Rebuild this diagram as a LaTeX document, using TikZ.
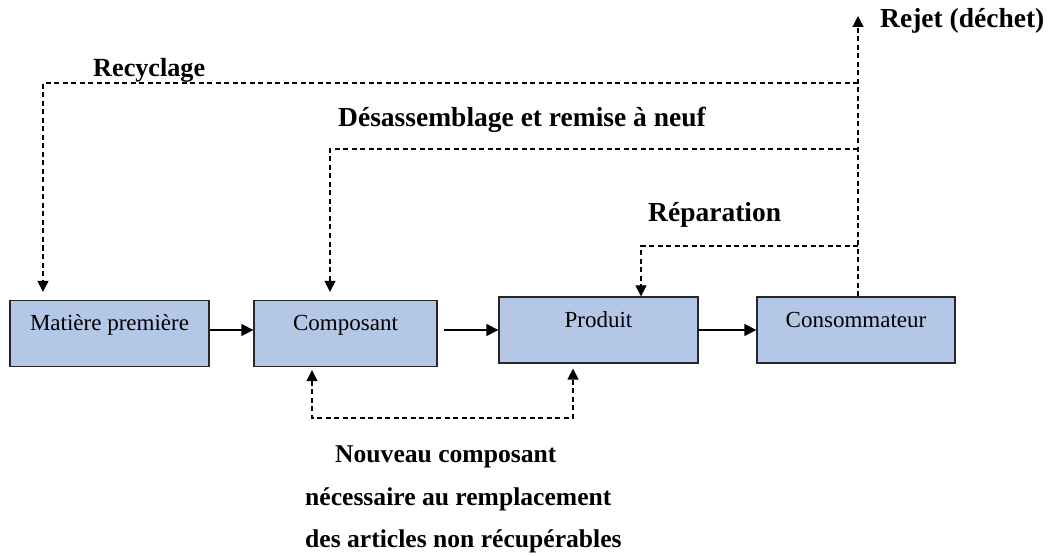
\documentclass[tikz,border=0pt]{standalone}
\usepackage{fontspec}
\setmainfont{Liberation Serif}
\usetikzlibrary{arrows.meta}

\definecolor{boxblue}{HTML}{B4C7E7}
\definecolor{boxline}{HTML}{262626}

\tikzset{
  bloc/.style={draw=boxline, line width=1.3pt, fill=boxblue, inner sep=0pt,
    text height=30pt, text depth=36pt, font=\fontsize{23}{27}\selectfont},
  lab/.style={inner sep=0pt, anchor=base west, font=\bfseries\fontsize{#1}{#1}\selectfont},
  lab/.default=26,
  flux/.style={line width=1.4pt, -{Triangle[length=12pt,width=12pt]}},
  retour/.style={line width=1.2pt, dash pattern=on 5pt off 3.5pt, -{Triangle[length=11pt,width=11pt]}}
}

\begin{document}
\begin{tikzpicture}[x=1pt,y=-1pt]
\useasboundingbox (0,0) rectangle (1049,556);

% blocs
\node[bloc, minimum width=199pt] (mp) at (109.5,333.5) {Matière première};
\node[bloc, minimum width=183pt] (comp) at (345.5,333.5) {Composant};
\node[bloc, minimum width=199pt] (prod) at (598.5,330) {Produit};
\node[bloc, minimum width=198pt] (cons) at (856,330) {Consommateur};

\draw[flux] (mp.east |- prod.west) -- (comp.west |- prod.west);
\draw[flux] ([xshift=6pt]comp.east |- prod.west) -- (prod.west);
\draw[flux] (prod.east) -- (cons.west);

% boucles de retour
\coordinate (rj) at (858,16);
\coordinate (rc) at (858,83);
\coordinate (ds) at (858,149);
\coordinate (rp) at (858,246);

\draw[retour] (cons.north -| rj) -- (rj);
\draw[retour] (rc) -- (43,83) -- ([yshift=8pt]mp.north -| 43,0);
\draw[retour] (ds) -- (330,149) -- ([yshift=8pt]comp.north -| 330,0);
\draw[retour] (rp) -- (641,246) -- (prod.north -| 641,0);
\draw[retour, {Triangle[length=11pt,width=11pt]}-{Triangle[length=11pt,width=11pt]}]
  ([yshift=-3pt]comp.south -| 312,0) -- (312,418) -- (573,418) -- ([yshift=-5pt]prod.south -| 573,0);

% textes
\node[lab=27.5] (rejet) at (880,28) {Rejet (déchet)};
\node[lab=26.2] (recy) at (93,77) {Recyclage};
\node[lab=27.5] (desa) at (338,127) {Désassemblage et remise à neuf};
\node[lab=27.5] (repa) at (648,222) {Réparation};
\node[lab=25.6] (nv1) at (335,462) {Nouveau composant};
\node[lab=25.6] (nv2) at (305,505) {nécessaire au remplacement};
\node[lab=25.6] (nv3) at (305,547) {des articles non récupérables};

\end{tikzpicture}
\end{document}
